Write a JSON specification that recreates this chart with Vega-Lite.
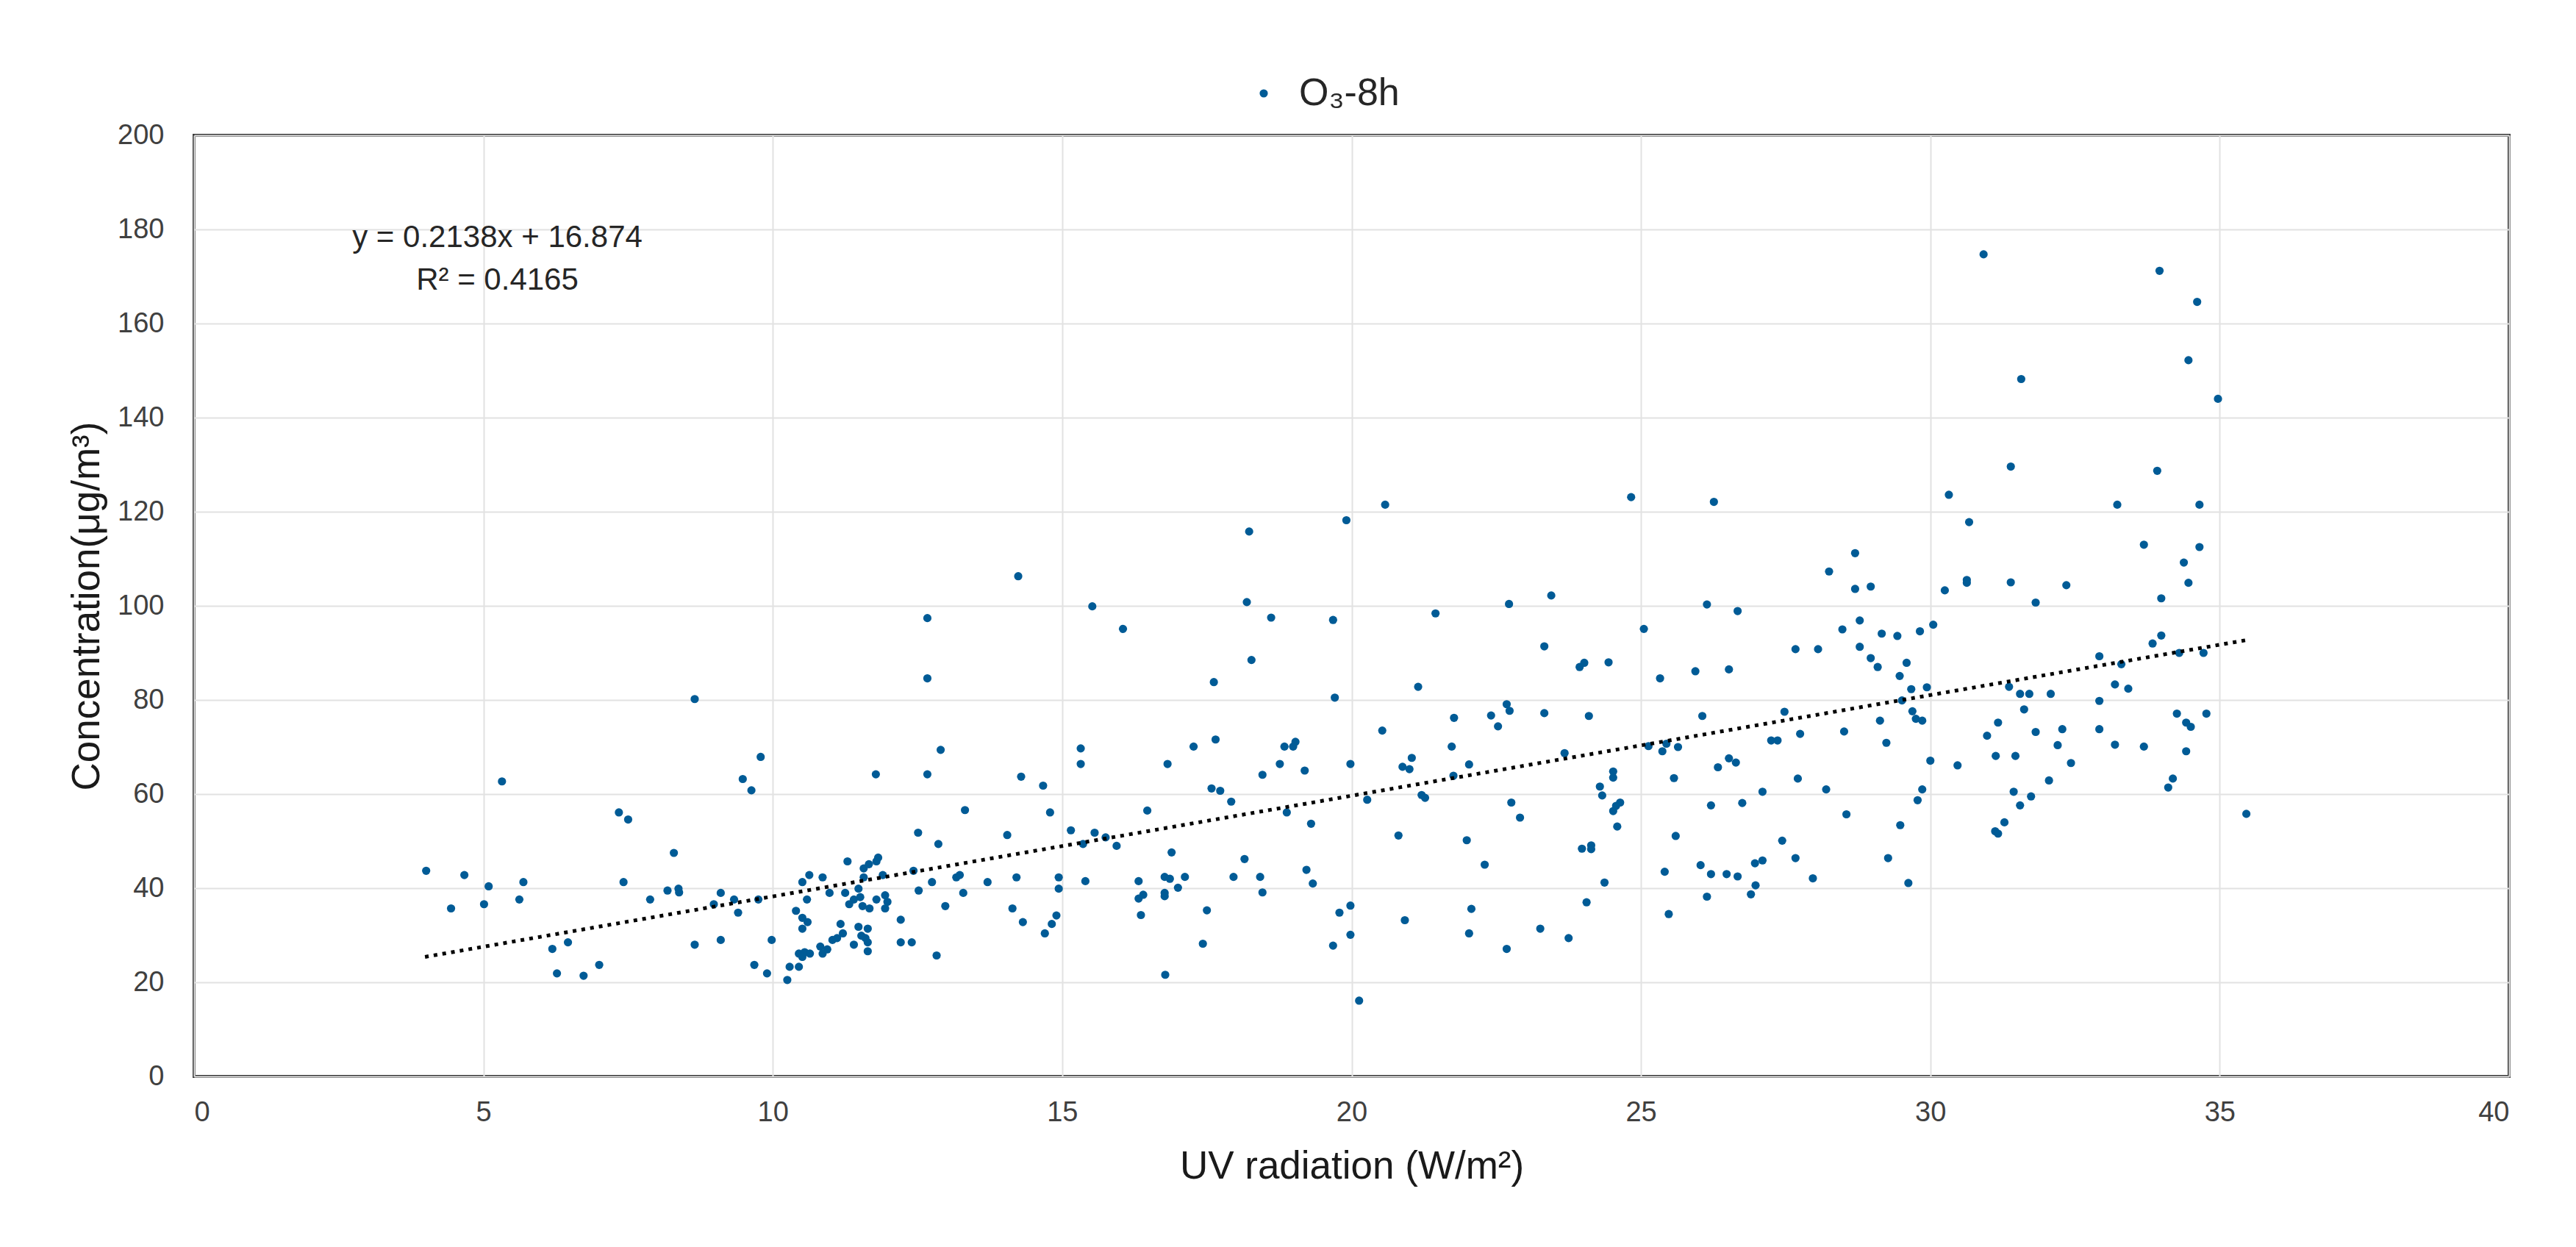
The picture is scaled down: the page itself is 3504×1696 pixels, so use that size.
{
  "$schema": "https://vega.github.io/schema/vega-lite/v6.json",
  "width": 3149,
  "height": 1280,
  "autosize": {"type": "none"},
  "padding": {"left": 264, "top": 184, "right": 91, "bottom": 232},
  "background": "white",
  "datasets": {
    "points": [
      {"uv":4.01,"conc":43.7},{"uv":4.44,"conc":35.7},{"uv":4.67,"conc":42.8},{"uv":5.01,"conc":36.6},{"uv":5.09,"conc":40.4},{"uv":5.32,"conc":62.7},{"uv":5.62,"conc":37.6},{"uv":5.69,"conc":41.3},{"uv":6.19,"conc":27.1},{"uv":6.27,"conc":21.9},
      {"uv":6.46,"conc":28.5},{"uv":6.73,"conc":21.4},{"uv":7.0,"conc":23.7},{"uv":7.34,"conc":56.1},{"uv":7.5,"conc":54.6},{"uv":7.42,"conc":41.3},{"uv":7.88,"conc":37.6},{"uv":8.18,"conc":39.5},{"uv":8.29,"conc":47.5},{"uv":8.37,"conc":39.9},
      {"uv":8.38,"conc":39.1},{"uv":8.65,"conc":80.2},{"uv":8.65,"conc":28.0},{"uv":8.98,"conc":36.6},{"uv":9.1,"conc":39.0},{"uv":9.1,"conc":29.0},{"uv":9.33,"conc":37.6},{"uv":9.4,"conc":34.8},{"uv":9.48,"conc":63.2},{"uv":9.63,"conc":60.8},
      {"uv":9.68,"conc":23.7},{"uv":9.75,"conc":37.6},{"uv":9.79,"conc":67.9},{"uv":9.9,"conc":21.9},{"uv":9.98,"conc":29.0},{"uv":10.25,"conc":20.5},{"uv":10.29,"conc":23.3},
      {"uv":10.45,"conc":23.3},{"uv":10.4,"conc":35.2},{"uv":10.51,"conc":33.7},{"uv":10.6,"conc":32.8},{"uv":10.51,"conc":31.4},{"uv":10.51,"conc":41.3},{"uv":10.63,"conc":42.8},{"uv":10.59,"conc":37.6},{"uv":10.45,"conc":26.1},{"uv":10.55,"conc":26.4},
      {"uv":10.51,"conc":25.4},{"uv":10.64,"conc":26.1},{"uv":10.82,"conc":27.6},{"uv":10.86,"conc":26.1},{"uv":10.94,"conc":27.0},{"uv":10.86,"conc":42.3},{"uv":10.98,"conc":39.0},{"uv":11.03,"conc":29.0},{"uv":11.11,"conc":29.4},{"uv":11.17,"conc":32.4},
      {"uv":11.21,"conc":30.4},{"uv":11.29,"conc":45.7},{"uv":11.25,"conc":39.0},{"uv":11.32,"conc":36.6},{"uv":11.4,"conc":37.6},{"uv":11.48,"conc":39.9},{"uv":11.51,"conc":38.1},{"uv":11.55,"conc":36.2},{"uv":11.67,"conc":35.7},{"uv":11.4,"conc":28.0},
      {"uv":11.48,"conc":31.8},{"uv":11.53,"conc":29.9},{"uv":11.6,"conc":29.4},{"uv":11.64,"conc":31.4},{"uv":11.64,"conc":28.5},{"uv":11.64,"conc":26.6},{"uv":11.57,"conc":44.2},{"uv":11.66,"conc":45.1},{"uv":11.79,"conc":45.7},{"uv":11.82,"conc":46.5},
      {"uv":11.57,"conc":42.3},{"uv":11.9,"conc":42.8},{"uv":11.79,"conc":37.6},{"uv":11.94,"conc":38.5},{"uv":11.98,"conc":37.1},{"uv":11.94,"conc":35.7},{"uv":11.78,"conc":64.2},{"uv":12.21,"conc":33.3},{"uv":12.21,"conc":28.5},{"uv":12.4,"conc":28.5},
      {"uv":12.43,"conc":43.7},{"uv":12.51,"conc":51.8},{"uv":12.52,"conc":39.5},{"uv":12.67,"conc":97.4},{"uv":12.67,"conc":84.6},{"uv":12.67,"conc":64.2},{"uv":12.75,"conc":41.3},{"uv":12.83,"conc":25.7},{"uv":12.86,"conc":49.4},{"uv":12.9,"conc":69.4},
      {"uv":12.98,"conc":36.2},{"uv":13.17,"conc":42.3},{"uv":13.23,"conc":42.8},{"uv":13.29,"conc":39.0},{"uv":13.32,"conc":56.6},{"uv":13.71,"conc":41.3},{"uv":14.05,"conc":51.3},{"uv":14.14,"conc":35.7},{"uv":14.21,"conc":42.3},{"uv":14.29,"conc":63.7},
      {"uv":14.32,"conc":32.8},{"uv":14.67,"conc":61.8},{"uv":14.79,"conc":56.1},{"uv":14.7,"conc":30.4},{"uv":14.82,"conc":32.4},{"uv":14.9,"conc":34.2},{"uv":14.94,"conc":42.3},{"uv":14.94,"conc":39.9},{"uv":15.15,"conc":52.3},{"uv":14.24,"conc":106.3},
      {"uv":15.32,"conc":69.7},{"uv":15.32,"conc":66.4},{"uv":15.36,"conc":49.4},{"uv":15.4,"conc":41.5},{"uv":15.52,"conc":99.9},{"uv":15.56,"conc":51.8},{"uv":15.75,"conc":50.8},{"uv":15.94,"conc":49.0},{"uv":16.05,"conc":95.1},{"uv":16.32,"conc":41.5},
      {"uv":16.32,"conc":37.8},{"uv":16.4,"conc":38.6},{"uv":16.36,"conc":34.3},{"uv":16.47,"conc":56.5},{"uv":16.78,"conc":21.6},{"uv":16.77,"conc":42.4},{"uv":16.86,"conc":42.0},{"uv":16.77,"conc":39.0},{"uv":16.77,"conc":38.3},{"uv":16.82,"conc":66.4},
      {"uv":16.89,"conc":47.6},{"uv":17.0,"conc":40.1},{"uv":17.12,"conc":42.4},{"uv":17.27,"conc":70.1},{"uv":17.43,"conc":28.2},{"uv":17.5,"conc":35.3},{"uv":17.58,"conc":61.2},{"uv":17.73,"conc":60.7},{"uv":17.62,"conc":83.8},{"uv":17.65,"conc":71.6},
      {"uv":17.92,"conc":58.4},{"uv":17.96,"conc":42.4},{"uv":18.15,"conc":46.2},{"uv":18.19,"conc":100.8},{"uv":18.23,"conc":115.8},{"uv":18.27,"conc":88.5},{"uv":18.42,"conc":42.4},{"uv":18.46,"conc":39.1},{"uv":18.46,"conc":64.1},{"uv":18.61,"conc":97.5},
      {"uv":18.76,"conc":66.4},{"uv":18.84,"conc":70.1},{"uv":18.99,"conc":70.1},{"uv":19.03,"conc":71.1},{"uv":18.88,"conc":56.1},{"uv":19.19,"conc":65.0},{"uv":19.22,"conc":43.9},{"uv":19.3,"conc":53.7},{"uv":19.33,"conc":41.0},{"uv":19.68,"conc":97.0},
      {"uv":19.71,"conc":80.5},{"uv":19.68,"conc":27.8},{"uv":19.79,"conc":34.8},{"uv":19.98,"conc":36.3},{"uv":19.98,"conc":30.1},{"uv":19.98,"conc":66.4},{"uv":19.91,"conc":118.2},{"uv":20.13,"conc":16.1},
      {"uv":20.27,"conc":58.8},{"uv":20.53,"conc":73.5},{"uv":20.58,"conc":121.5},{"uv":20.81,"conc":51.2},{"uv":20.88,"conc":65.8},{"uv":21.0,"conc":65.3},{"uv":21.04,"conc":67.7},{"uv":20.92,"conc":33.2},{"uv":21.15,"conc":82.8},{"uv":21.21,"conc":59.8},
      {"uv":21.27,"conc":59.2},{"uv":21.45,"conc":98.4},{"uv":21.73,"conc":70.1},{"uv":21.77,"conc":76.2},{"uv":21.76,"conc":63.9},{"uv":21.99,"conc":50.2},{"uv":22.03,"conc":66.3},{"uv":22.07,"conc":35.6},{"uv":22.03,"conc":30.4},{"uv":22.3,"conc":45.0},
      {"uv":22.41,"conc":76.7},{"uv":22.53,"conc":74.4},{"uv":22.68,"conc":79.1},{"uv":22.73,"conc":77.7},{"uv":22.72,"conc":100.4},{"uv":22.68,"conc":27.1},{"uv":22.76,"conc":58.2},{"uv":22.91,"conc":55.0},{"uv":23.26,"conc":31.4},{"uv":23.33,"conc":91.4},
      {"uv":23.45,"conc":102.2},{"uv":23.33,"conc":77.2},{"uv":23.68,"conc":68.7},{"uv":23.75,"conc":29.4},{"uv":23.94,"conc":87.0},{"uv":24.02,"conc":87.9},{"uv":24.1,"conc":76.6},{"uv":23.98,"conc":48.4},{"uv":24.14,"conc":49.1},{"uv":24.14,"conc":48.3},
      {"uv":24.06,"conc":37.0},{"uv":24.29,"conc":61.6},{"uv":24.33,"conc":59.7},{"uv":24.37,"conc":41.2},{"uv":24.44,"conc":88.0},{"uv":24.52,"conc":64.8},{"uv":24.52,"conc":63.5},{"uv":24.52,"conc":56.4},{"uv":24.57,"conc":57.5},{"uv":24.64,"conc":58.2},
      {"uv":24.59,"conc":53.1},{"uv":24.83,"conc":123.1},{"uv":25.05,"conc":95.1},{"uv":25.13,"conc":70.2},
      {"uv":25.33,"conc":84.6},{"uv":25.37,"conc":69.1},{"uv":25.44,"conc":70.7},{"uv":25.64,"conc":70.0},{"uv":25.57,"conc":63.4},{"uv":25.6,"conc":51.1},{"uv":25.41,"conc":43.5},{"uv":25.48,"conc":34.5},{"uv":25.94,"conc":86.1},{"uv":26.06,"conc":76.6},
      {"uv":26.14,"conc":100.3},{"uv":26.26,"conc":122.1},{"uv":26.03,"conc":44.9},{"uv":26.14,"conc":38.2},{"uv":26.21,"conc":57.6},{"uv":26.21,"conc":43.0},{"uv":26.33,"conc":65.7},{"uv":26.52,"conc":86.5},{"uv":26.52,"conc":67.6},{"uv":26.64,"conc":66.7},
      {"uv":26.67,"conc":98.9},{"uv":26.48,"conc":43.0},{"uv":26.67,"conc":42.5},{"uv":26.75,"conc":58.1},{"uv":26.9,"conc":38.7},{"uv":26.98,"conc":40.6},{"uv":26.97,"conc":45.3},{"uv":27.1,"conc":45.9},{"uv":27.1,"conc":60.5},{"uv":27.25,"conc":71.4},
      {"uv":27.36,"conc":71.4},{"uv":27.44,"conc":50.1},{"uv":27.48,"conc":77.5},{"uv":27.67,"conc":90.8},{"uv":27.67,"conc":46.4},{"uv":27.71,"conc":63.3},{"uv":27.75,"conc":72.8},{"uv":27.97,"conc":42.1},{"uv":28.06,"conc":90.8},{"uv":28.2,"conc":61.0},
      {"uv":28.25,"conc":107.3},{"uv":28.48,"conc":95.0},{"uv":28.51,"conc":73.3},{"uv":28.55,"conc":55.7},{"uv":28.7,"conc":111.2},{"uv":28.7,"conc":103.6},{"uv":28.97,"conc":104.1},{"uv":28.78,"conc":96.9},{"uv":28.78,"conc":91.3},{"uv":28.97,"conc":88.9},
      {"uv":29.09,"conc":87.0},{"uv":29.16,"conc":94.1},{"uv":29.13,"conc":75.6},{"uv":29.24,"conc":70.9},{"uv":29.27,"conc":46.4},{"uv":29.43,"conc":93.6},{"uv":29.47,"conc":85.1},{"uv":29.59,"conc":87.9},{"uv":29.51,"conc":79.9},{"uv":29.48,"conc":53.4},
      {"uv":29.62,"conc":41.1},{"uv":29.67,"conc":82.3},{"uv":29.69,"conc":77.6},{"uv":29.75,"conc":76.0},{"uv":29.86,"conc":75.6},{"uv":29.82,"conc":94.6},{"uv":29.94,"conc":82.7},{"uv":30.05,"conc":96.0},{"uv":30.0,"conc":67.1},{"uv":29.86,"conc":61.0},
      {"uv":29.78,"conc":58.7},
      {"uv":30.25,"conc":103.3},{"uv":30.32,"conc":123.6},{"uv":30.47,"conc":66.1},{"uv":30.63,"conc":105.5},{"uv":30.63,"conc":104.9},{"uv":30.67,"conc":117.8},{"uv":30.98,"conc":72.4},{"uv":31.13,"conc":68.1},{"uv":31.17,"conc":75.2},{"uv":31.12,"conc":52.1},
      {"uv":31.17,"conc":51.6},{"uv":31.28,"conc":54.0},{"uv":31.36,"conc":82.8},{"uv":31.39,"conc":129.6},{"uv":31.39,"conc":105.0},{"uv":31.44,"conc":60.5},{"uv":31.47,"conc":68.1},{"uv":31.55,"conc":81.3},{"uv":31.55,"conc":57.6},{"uv":31.57,"conc":148.2},
      {"uv":31.62,"conc":78.0},{"uv":31.71,"conc":81.3},{"uv":31.74,"conc":59.5},{"uv":31.82,"conc":100.7},{"uv":31.82,"conc":73.2},{"uv":32.05,"conc":62.9},{"uv":32.08,"conc":81.3},{"uv":32.2,"conc":70.4},{"uv":32.28,"conc":73.8},{"uv":32.35,"conc":104.4},
      {"uv":32.43,"conc":66.6},{"uv":32.92,"conc":89.3},{"uv":32.92,"conc":79.8},{"uv":32.92,"conc":73.8},{"uv":33.19,"conc":83.3},{"uv":33.19,"conc":70.5},{"uv":33.23,"conc":121.5},{"uv":33.3,"conc":87.6},{"uv":33.42,"conc":82.4},{"uv":33.69,"conc":113.0},
      {"uv":33.69,"conc":70.1},{"uv":33.84,"conc":92.0},{"uv":33.92,"conc":128.7},{"uv":33.96,"conc":171.2},{"uv":33.99,"conc":101.6},{"uv":33.99,"conc":93.7},{"uv":34.11,"conc":61.4},{"uv":34.19,"conc":63.3},{"uv":34.26,"conc":77.1},{"uv":34.3,"conc":90.0},
      {"uv":34.38,"conc":109.2},{"uv":34.42,"conc":75.2},{"uv":34.5,"conc":74.3},{"uv":34.42,"conc":69.1},{"uv":34.46,"conc":104.9},{"uv":34.46,"conc":152.2},{"uv":34.61,"conc":164.6},{"uv":34.65,"conc":121.5},{"uv":34.65,"conc":112.5},{"uv":34.72,"conc":90.0},
      {"uv":34.77,"conc":77.1},{"uv":34.97,"conc":144.0},{"uv":35.46,"conc":55.8},{"uv":30.92,"conc":174.7}
    ],
    "trend": [{"uv": 3.99, "conc": 25.4}, {"uv": 35.45, "conc": 92.7}],
    "equation": [
      {"uv": 5.24, "conc": 178.3, "label": "y = 0.2138x + 16.874"},
      {"uv": 5.24, "conc": 169.2, "label": "R² = 0.4165"}
    ]
  },
  "layer": [
    {
      "data": {"name": "points"},
      "mark": {"type": "circle", "size": 125, "opacity": 1},
      "encoding": {
        "x": {
          "field": "uv",
          "type": "quantitative",
          "scale": {"domain": [0, 40], "nice": false, "zero": false},
          "axis": {
            "title": "UV radiation (W/m²)",
            "values": [0, 5, 10, 15, 20, 25, 30, 35, 40],
            "format": "d",
            "labelPadding": 30,
            "titlePadding": 28
          }
        },
        "y": {
          "field": "conc",
          "type": "quantitative",
          "scale": {"domain": [0, 200], "nice": false},
          "axis": {
            "title": "Concentration(μg/m³)",
            "values": [0, 20, 40, 60, 80, 100, 120, 140, 160, 180, 200],
            "format": "d",
            "labelPadding": 41,
            "titlePadding": 14
          }
        },
        "color": {
          "datum": "O₃-8h",
          "scale": {"range": ["#005b96"]},
          "legend": {
            "title": null,
            "orient": "none",
            "legendX": 1429,
            "legendY": -83,
            "padding": 0,
            "symbolType": "circle",
            "symbolSize": 125,
            "labelOffset": 22,
            "labelFontSize": 52,
            "labelFont": "Liberation Sans",
            "labelColor": "#262626"
          }
        }
      }
    },
    {
      "data": {"name": "trend"},
      "mark": {"type": "line", "color": "#000000", "strokeWidth": 5, "strokeDash": [5, 7], "strokeCap": "butt"},
      "encoding": {
        "x": {"field": "uv", "type": "quantitative"},
        "y": {"field": "conc", "type": "quantitative"}
      }
    },
    {
      "data": {"name": "equation"},
      "mark": {"type": "text", "font": "Liberation Sans", "fontSize": 42, "color": "#262626", "align": "center", "baseline": "middle"},
      "encoding": {
        "x": {"field": "uv", "type": "quantitative"},
        "y": {"field": "conc", "type": "quantitative"},
        "text": {"field": "label"}
      }
    }
  ],
  "config": {
    "font": "Liberation Sans",
    "view": {"stroke": "#3a3a3a", "strokeWidth": 4},
    "axis": {
      "grid": true,
      "gridColor": "#e2e2e2",
      "gridWidth": 2,
      "ticks": false,
      "tickSize": 0,
      "domain": false,
      "labelFont": "Liberation Sans",
      "labelFontSize": 38,
      "labelColor": "#404040",
      "titleFont": "Liberation Sans",
      "titleFontSize": 53,
      "titleFontWeight": "normal",
      "titleColor": "#1a1a1a"
    }
  }
}
